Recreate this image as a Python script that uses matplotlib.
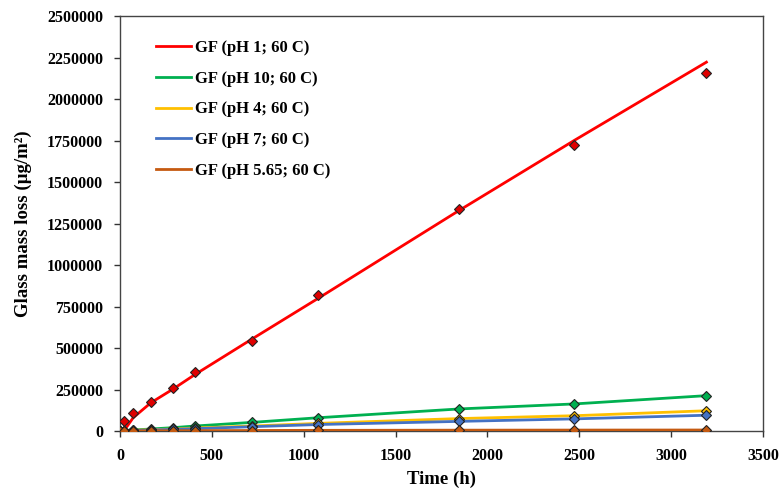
import matplotlib
matplotlib.use('Agg')
import matplotlib.pyplot as plt
from matplotlib import ticker

# sampling times (h)
time_h = [0, 24, 72, 168, 288, 408, 720, 1080, 1848, 2472, 3192]

# measured glass mass loss (ug/m2)
ph1_pts = [0, 60000, 108000, 175000, 259000, 355000, 542000, 819000, 1337000, 1723000, 2157000]
ph10_pts = [0, 3000, 6000, 12000, 20000, 30000, 52000, 80000, 133000, 163000, 213000]
ph4_pts = [0, 2000, 4000, 8000, 12000, 18000, 30000, 46000, 75000, 92000, 122000]
ph7_pts = [0, 1500, 3000, 6000, 10000, 14000, 26000, 39000, 58000, 73000, 95000]
ph565_pts = [0, 300, 600, 1000, 1500, 2000, 3000, 4000, 5000, 5500, 6000]

# fitted curve for pH 1
ph1_fit_t = [24, 72, 168, 288, 408, 720, 1080, 1848, 2472, 3192]
ph1_fit = [5000, 80000, 170000, 252000, 340000, 555000, 800000, 1330000, 1750000, 2222000]

labels = ['GF (pH 1; 60 C)', 'GF (pH 10; 60 C)', 'GF (pH 4; 60 C)',
          'GF (pH 7; 60 C)', 'GF (pH 5.65; 60 C)']
colors = ['#FF0000', '#00B050', '#FFC000', '#4472C4', '#C55A11']
marker_fill = ['#E00000', '#00B050', '#FFC000', '#4472C4', '#C55A11']

plt.rcParams['font.family'] = ['Liberation Serif', 'DejaVu Serif']
plt.rcParams['font.weight'] = 'bold'

fig = plt.figure(figsize=(7.8, 4.88), dpi=100)
ax = fig.add_axes([0.1538, 0.1168, 0.8244, 0.8504])

lw = 2.0
ax.plot(ph1_fit_t, ph1_fit, color=colors[0], lw=lw, label=labels[0], zorder=3)
ax.plot(time_h, ph10_pts, color=colors[1], lw=lw, label=labels[1], zorder=3)
ax.plot(time_h, ph4_pts, color=colors[2], lw=lw, label=labels[2], zorder=3)
ax.plot(time_h, ph7_pts, color=colors[3], lw=lw, label=labels[3], zorder=3)
ax.plot(time_h, ph565_pts, color=colors[4], lw=lw, label=labels[4], zorder=3)

for pts, c in zip([ph1_pts, ph10_pts, ph4_pts, ph7_pts, ph565_pts], marker_fill):
    ax.plot(time_h, pts, ls='none', marker='D', ms=5.5, mfc=c, mec='#222222',
            mew=0.8, zorder=4)

ax.set_xlim(0, 3500)
ax.set_ylim(0, 2500000)
ax.xaxis.set_major_locator(ticker.MultipleLocator(500))
ax.yaxis.set_major_locator(ticker.MultipleLocator(250000))
ax.yaxis.set_major_formatter(ticker.FuncFormatter(lambda v, p: f'{int(v)}'))
ax.tick_params(direction='out', length=4, width=1, labelsize=11.5, color='#333333')
ax.tick_params(axis='y', pad=8)
ax.tick_params(axis='x', pad=8)
for lab in ax.get_xticklabels() + ax.get_yticklabels():
    lab.set_fontweight('bold')
for sp in ax.spines.values():
    sp.set_color('#444444')
    sp.set_linewidth(1)

ax.set_xlabel('Time (h)', fontsize=13.5, fontweight='bold', labelpad=5)
ax.set_ylabel('Glass mass loss (µg/m²)', fontsize=13.5, fontweight='bold', labelpad=11)

leg = ax.legend(loc='upper left', bbox_to_anchor=(0.046, 0.958), frameon=False,
                fontsize=12, handlelength=2.1, handletextpad=0.2, labelspacing=0.88,
                borderaxespad=0)
for t in leg.get_texts():
    t.set_fontweight('bold')

fig.savefig('out.png', dpi=100)
